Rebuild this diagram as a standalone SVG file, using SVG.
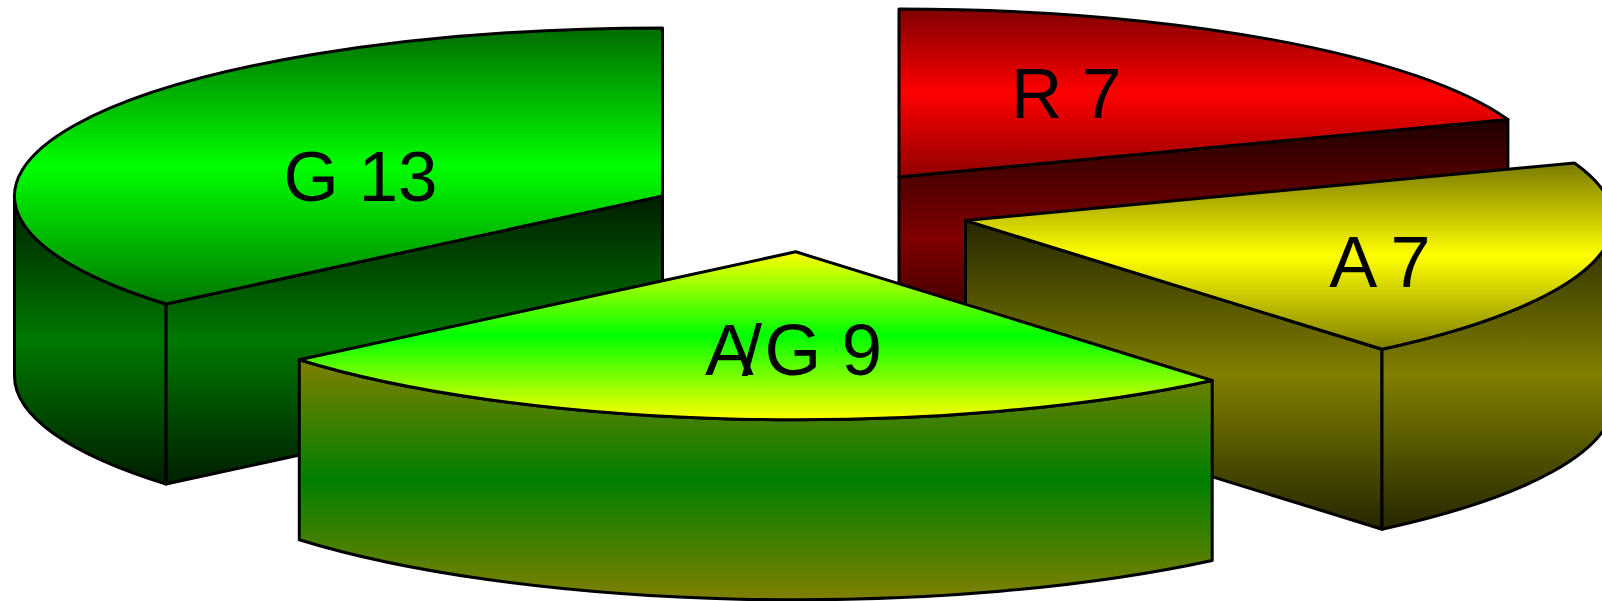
<svg xmlns="http://www.w3.org/2000/svg" width="1602" height="601" viewBox="0 0 1602 601">
  <defs>
    <linearGradient id="gTop" x1="0" y1="0" x2="0" y2="1">
      <stop offset="0" stop-color="#006c00"/>
      <stop offset="0.5" stop-color="#00ff00"/>
      <stop offset="1" stop-color="#007800"/>
    </linearGradient>
    <linearGradient id="gSide" x1="0" y1="0" x2="0" y2="1">
      <stop offset="0" stop-color="#001e00"/>
      <stop offset="0.5" stop-color="#007800"/>
      <stop offset="1" stop-color="#001e00"/>
    </linearGradient>
    <linearGradient id="rTop" x1="0" y1="0" x2="0" y2="1">
      <stop offset="0" stop-color="#800000"/>
      <stop offset="0.5" stop-color="#ff0000"/>
      <stop offset="1" stop-color="#900000"/>
    </linearGradient>
    <linearGradient id="rSide" x1="0" y1="0" x2="0" y2="1">
      <stop offset="0" stop-color="#200000"/>
      <stop offset="0.5" stop-color="#800000"/>
      <stop offset="1" stop-color="#200000"/>
    </linearGradient>
    <linearGradient id="yTop" x1="0" y1="0" x2="0" y2="1">
      <stop offset="0" stop-color="#7a7a00"/>
      <stop offset="0.5" stop-color="#ffff00"/>
      <stop offset="1" stop-color="#808000"/>
    </linearGradient>
    <linearGradient id="ySide" x1="0" y1="0" x2="0" y2="1">
      <stop offset="0" stop-color="#262600"/>
      <stop offset="0.5" stop-color="#808000"/>
      <stop offset="1" stop-color="#262600"/>
    </linearGradient>
    <linearGradient id="agTop" x1="0" y1="0" x2="0" y2="1">
      <stop offset="0" stop-color="#ffff00"/>
      <stop offset="0.5" stop-color="#00ff00"/>
      <stop offset="1" stop-color="#ffff00"/>
    </linearGradient>
    <linearGradient id="agSide" x1="0" y1="0" x2="0" y2="1">
      <stop offset="0" stop-color="#808000"/>
      <stop offset="0.5" stop-color="#008000"/>
      <stop offset="1" stop-color="#808000"/>
    </linearGradient>
  </defs>
  <style>
    .face { stroke: #000000; stroke-width: 3; stroke-linejoin: round; }
    .label { font-family: "Liberation Sans", Arial, sans-serif; fill: #000000; }
  </style>

  <g id="slice-R7">
    <path class="face" fill="url(#rSide)" d="M 899,177 L 1507.9,119.5 L 1507.9,299.5 L 899,357 Z"/>
    <path class="face" fill="url(#rTop)" d="M 899,177 L 899,9 A 648 168 0 0 1 1507.9,119.5 Z"/>
    <text class="label" x="1011" y="118.3" font-size="71">R 7</text>
  </g>

  <g id="slice-G13">
    <path class="face" fill="url(#gSide)" d="M 166.1,304 A 648 168 0 0 1 14.5,196 L 14.5,376 A 648 168 0 0 0 166.1,484 Z"/>
    <path class="face" fill="url(#gSide)" d="M 166.1,304 L 662.5,196 L 662.5,376 L 166.1,484 Z"/>
    <path class="face" fill="url(#gTop)" d="M 662.5,196 L 166.1,304 A 648 168 0 0 1 662.5,28 Z"/>
    <text class="label" x="283.5" y="201" font-size="71">G 13</text>
  </g>

  <g id="slice-A7">
    <path class="face" fill="url(#ySide)" d="M 965.5,220.5 L 1382,349.2 L 1382,529.2 L 965.5,400.5 Z"/>
    <path class="face" fill="url(#ySide)" d="M 1613.5,220.5 A 648 168 0 0 1 1382,349.2 L 1382,529.2 A 648 168 0 0 0 1613.5,400.5 Z"/>
    <path class="face" fill="url(#yTop)" d="M 965.5,220.5 L 1574.4,163 A 648 168 0 0 1 1382,349.2 Z"/>
    <text class="label" x="1329.3" y="286.7" font-size="72" dx="0 0 -3">A 7</text>
  </g>

  <g id="slice-AG9">
    <path class="face" fill="url(#agSide)" d="M 1212.2,380.5 A 648 168 0 0 1 299.3,359.8 L 299.3,539.8 A 648 168 0 0 0 1212.2,560.5 Z"/>
    <path class="face" fill="url(#agTop)" d="M 795.7,251.8 L 1212.2,380.5 A 648 168 0 0 1 299.3,359.8 Z"/>
    <text class="label" x="705" y="375" font-size="73" dx="0 -12 2.5 0 0">A/G 9</text>
  </g>
</svg>
